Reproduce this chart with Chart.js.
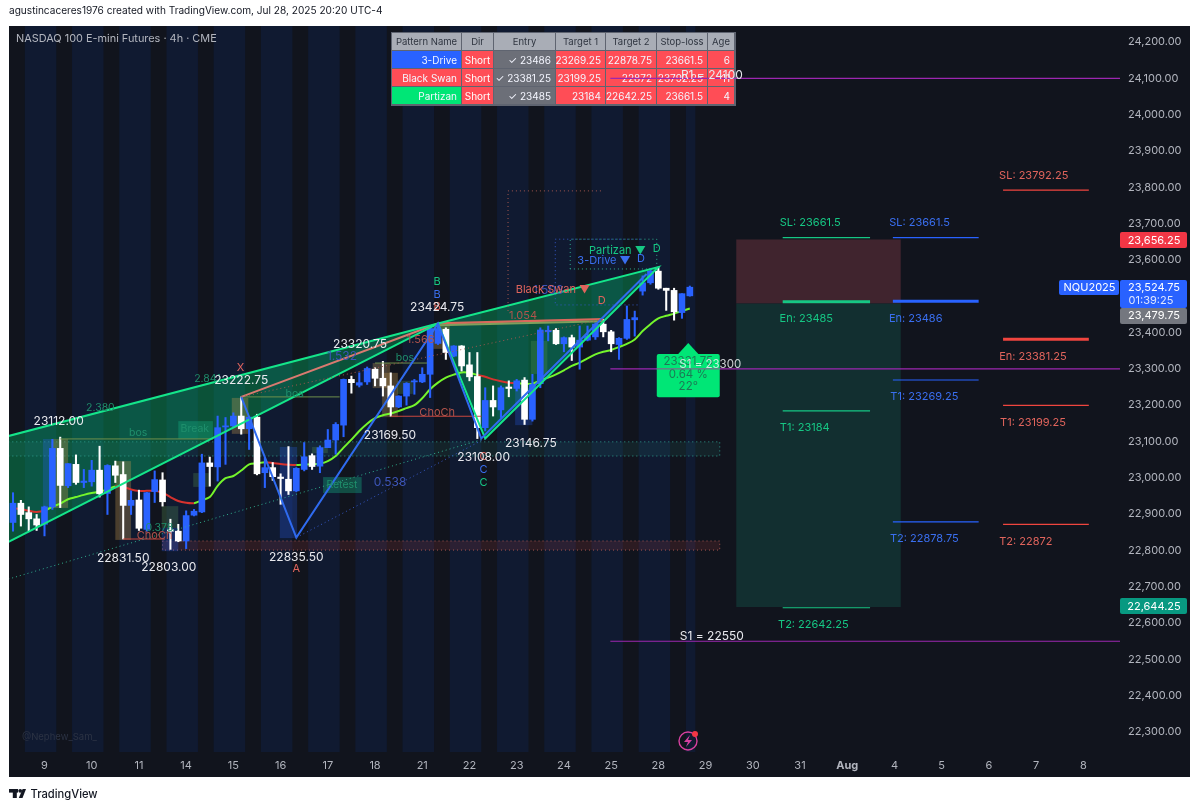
<!DOCTYPE html>
<html>
<head>
<meta charset="utf-8">
<title>NQU2025</title>
<script src="https://cdn.jsdelivr.net/npm/chart.js@4"></script>
<style>
body { margin: 0; background: #fff; }
canvas { display: block; }
</style>
</head>
<body>
<canvas id="chart" width="1200" height="810"></canvas>
<script>
// 4h candles, blue = up, white = down
var opens = [22877,22930,22904,22887,22872,22920,23081,22978,23037,22987,22989,23021,22957,23033,23009,22924,22939,22858,22962,22994,22857,22853,22826,22897,22906,23041,23030,23140,23143,23170,23135,23167,23014,23028,23002,22996,22964,23023,23061,23032,23083,23104,23145,23271,23255,23264,23299,23274,23253,23195,23225,23264,23264,23285,23370,23409,23335,23363,23311,23279,23138,23213,23187,23250,23246,23269,23161,23259,23402,23406,23369,23386,23360,23379,23388,23423,23402,23367,23384,23435,23514,23537,23569,23522,23516,23455,23501];
var highs = [22959,22938,22920,22899,22922,23106,23112,23039,23063,23023,23048,23087,23036,23046,23044,22964,22966,22960,23019,23014,22886,22872,22909,22913,23065,23057,23170,23166,23179,23222.75,23168,23175,23055,23042,23011,23086,23028,23097,23066,23088,23133,23152,23272,23280,23289,23305,23303,23320.75,23289,23226,23262,23271,23303,23418,23424.75,23413,23364,23364,23345,23345,23248,23253,23253,23267,23271,23276,23285,23413,23418,23411,23388,23393,23418,23418,23427,23436,23406,23386,23473,23459,23556,23577,23580,23522,23522,23507,23528];
var lows = [22853,22867,22853,22855,22840,22913,22918,22973,22982,22973,22977,22947,22899,22987,22831.5,22899,22855,22853,22932,22922,22803,22824,22805,22895,22904,22977,22991,23037,23140,23120,23078,23008,22973,22993,22927,22954,22962,23019,23023,23014,23083,23065,23113,23233,23250,23257,23253,23225,23169.5,23193,23200,23230,23262,23221,23367,23326,23333,23294,23267,23108,23129,23170,23166,23223,23239,23146.75,23156,23248,23377,23367,23347,23323,23299,23377,23381,23388,23347,23326,23381,23390,23503,23533,23519,23461,23434,23439,23500];
var closes = [22930,22899,22887,22870,22920,23081,22979,23039,22987,22991,23021,22956,23034,23007,22924,22938,22861,22959,22995,22934,22853,22826,22896,22908,23041,23031,23138,23143,23170,23135,23167,23011,23028,23003,22998,22964,23026,23058,23031,23083,23104,23147,23271,23262,23262,23301,23274,23253,23195,23225,23260,23267,23285,23411,23411,23345,23363,23308,23278,23138,23213,23195,23248,23246,23267,23161,23257,23407,23406,23369,23386,23360,23379,23390,23423,23402,23369,23384,23436,23441,23537,23569,23522,23516,23457,23507,23524.75];

var maValues = [22916,22914,22909,22906,22910,22920,22929,22941,22947,22953,22958,22962,22968,22976,22975,22968,22964,22964,22964,22959,22947,22936,22931,22930,22938,22947,22978,22999,23005,23020,23037,23040,23043,23041,23038,23036,23035,23036,23037,23039,23046,23060,23083,23105,23129,23149,23164,23172,23177,23184,23192,23200,23219,23244,23262,23276,23284,23290,23289,23283,23278,23271,23266,23262,23260,23259,23259,23268,23276,23285,23296,23308,23317,23329,23340,23347,23352,23360,23369,23381,23404,23423,23439,23446,23452,23459,23466];
var maRedRanges = [[0,4],[13,23],[32,36],[59,64]];

var dayLabels = ['9','10','11','14','15','16','17','18','21','22','23','24','25','28','29','30','31','Aug','4','5','6','7','8'];
var priceTicks = [22300,22400,22500,22600,22700,22800,22900,23000,23100,23200,23300,23400,23500,23600,23700,23800,23900,24000,24100,24200];

// pivots / patterns as [bar, price]
var wedgeUpper = [[-0.6,23115],[54,23424.75]];
var wedgeLower = [[-0.6,22823],[54,23424.75]];
var partizanLeg = [[54,23424.75],[60,23108],[82,23580],[54,23424.75]];
var driveZigzag = [[29,23222.75],[36,22835.5],[54,23424.75],[59.5,23108],[80.5,23561]];
var swanLegA = [[29,23222.75],[54,23424.75]];
var swanLegB = [[54,23424.75],[75,23437]];
var swanLegC = [[54,23420],[75,23431]];
var dotTeal = [[-0.6,22721],[60,23108]];
var dotBlue = [[36,22835.5],[60,23108]];
var dotSalmon = [[29,23222.75],[75,23437]];
var frameSalmon = [[74.7,23790],[62.9,23790],[62.9,23451]];
var frameBlue = [[79.7,23657],[68.9,23657],[68.9,23476],[79.7,23476]];
var frameTeal = [[70.8,23575],[70.8,23657],[81.8,23657],[81.8,23575],[70.8,23575]];
var bosLines = [[[6,23107],[25.4,23107]],[[29,23222.75],[41.5,23222.75]],[[46,23316],[52.6,23316]]];
var chochLines = [[[14,22831.5],[19.3,22831.5]],[[48,23169.5],[59.5,23169.5]]];

// order blocks, [bar0, bar1, price0, price1]
var tanBoxes = [[5,7,23107,22917],[13,15,23046,22829],[27.8,29.9,23220,23121],[45.7,47.9,23316,23247],[46.9,48.9,23289,23167],[53.4,55.5,23418,23355]];
var blueBoxes = [[3.8,5,23107,22917],[18.9,21,22862,22798],[33.9,36.1,23085,22834],[63.8,66,23247,23145]];
var greenBoxes = [[18.9,21,22922,22862],[22.9,25,23013,22975],[38,40,23085,23068],[48.8,50.8,23267,23231],[65.8,67.9,23377,23286]];
var signalBoxes = [[21,25.4,23156,23107],[39.4,44.3,23002,22958]];
var tealZone = [-0.6,89.8,23099,23060];
var redZone = [19,89.8,22826,22801];

var entryPrice = 23479.75, stopPrice = 23656.25, targetPrice = 22644.25, lastPrice = 23524.75;
var positionBars = [91.9,112.8];
var partizanLevels = [23661.5,23184,22642.25], partizanEntry = 23485, partizanBars = [97.8,108.9];
var driveLevels = [23661.5,23269.25,22878.75], driveEntry = 23486, driveBars = [111.8,122.7];
var swanLevels = [23792.25,23199.25,22872], swanEntry = 23381.25, swanBars = [125.8,136.7];
var pivotLevels = [24100,23300,22550], pivotStartBar = 75.9;

// texts, [text, bar, price]
var whiteLabels = [['23112.00',5.8,23156],['23222.75',29,23267],['23424.75',53.9,23470],['23320.75',44.1,23366],['23169.50',47.9,23118],['23108.00',59.8,23057],['23146.75',65.8,23096],['22835.50',36,22782],['22831.50',14,22779],['22803.00',19.8,22752],['R1 = 24100',88.8,24109],['S1 = 22550',88.8,22562]];
var salmonLabels = [['X',28.9,23302],['B',53.9,23470],['C',59.8,23057],['A',36,22749],['Black Swan ▼',68.6,23517],['D',74.8,23487],['SL: 23792.25',129.7,23831],['En: 23381.25',129.6,23333],['T1: 23199.25',129.6,23151],['T2: 22872',128.7,22823]];
var dimSalmonLabels = [['1.566',51.8,23379],['ChoCh',53.9,23178],['ChoCh',18,22840],['1.054',64.8,23446]];
var greenLabels = [['B',53.9,23539],['C',59.8,22986],['Partizan ▼',76.8,23624.5],['D',81.8,23630],['SL: 23661.5',101.3,23702],['En: 23485',100.8,23437],['T1: 23184',100.6,23137],['T2: 22642.25',101.7,22595]];
var dimGreenLabels = [['2.380',11.1,23192],['2.841',24.7,23272],['0.378',18.6,22862],['bos',15.9,23123],['bos',35.8,23231],['bos',49.8,23330],['Break',23.1,23134],['Retest',41.8,22980]];
var blueLabels = [['B',53.9,23503],['C',59.8,23021],['3-Drive ▼',75.1,23597],['D',79.8,23602],['SL: 23661.5',115.2,23702],['En: 23486',114.7,23437],['T1: 23269.25',115.8,23222],['T2: 22878.75',115.8,22831]];
var dimBlueLabels = [['1.532',41.8,23335],['0.538',47.9,22986],['1.503',68,23517]];
var slopeTexts = [['23331.75',85.8,23319],['0.64 %',85.8,23283],['22°',85.8,23250]];
var slopeBox = [81.8,89.8,23341,23222], slopeTip = [85.8,23371];

var tableHead = ['Pattern Name','Dir','Entry','Target 1','Target 2','Stop-loss','Age'];
var tableRows = [
    ['3-Drive','Short','✓ 23486','23269.25','22878.75','23661.5','6'],
    ['Black Swan','Short','✓ 23381.25','23199.25','22872','23792.25','11'],
    ['Partizan','Short','✓ 23485','23184','22642.25','23661.5','4']
];

var UI = 'Inter, "Liberation Sans", sans-serif';
var BLUE = '#2962ff', WHITE = '#ffffff', LIME = '#74f52c', MARED = '#d6322e';
var GREEN = '#14e58a', SALMON = '#e0645c', PURPLE = '#9c27b0';

function lineSet(pts, color, width, dash) {
    return {
        type: 'line',
        data: pts.map(function (p) { return { x: p[0], y: p[1] }; }),
        borderColor: color,
        borderWidth: width || 1,
        borderDash: dash || [],
        pointRadius: 0,
        tension: 0,
        fill: false,
        order: 0
    };
}

function levelSets(levels, entry, bars, color) {
    var out = levels.map(function (v) { return lineSet([[bars[0], v], [bars[1], v]], color, 1.2); });
    out.push(lineSet([[bars[0], entry], [bars[1], entry]], color, 3));
    return out;
}

var candleColors = closes.map(function (c, i) { return c >= opens[i] ? BLUE : WHITE; });

var datasets = [
    {
        data: closes.map(function (c, i) { return { x: i, y: [opens[i], c] }; }),
        backgroundColor: candleColors,
        barThickness: 6,
        grouped: false,
        order: 1
    },
    {
        data: highs.map(function (h, i) { return { x: i, y: [lows[i], h] }; }),
        backgroundColor: candleColors,
        barThickness: 1.4,
        grouped: false,
        order: 2
    },
    {
        type: 'line',
        data: maValues.map(function (v, i) { return { x: i, y: v }; }),
        borderWidth: 2,
        borderColor: LIME,
        pointRadius: 0,
        tension: 0.3,
        order: 3,
        segment: {
            borderColor: function (ctx) {
                var red = maRedRanges.some(function (r) { return ctx.p0DataIndex >= r[0] && ctx.p0DataIndex < r[1]; });
                return red ? MARED : LIME;
            }
        }
    },
    lineSet(dotTeal, '#2fae8e', 1, [1, 3]),
    lineSet(dotBlue, '#3558c8', 1, [1, 3]),
    lineSet(dotSalmon, '#a5574f', 1, [1, 3]),
    lineSet(frameSalmon, '#a5574f', 1, [1, 3]),
    lineSet(frameBlue, '#3558c8', 1, [1, 3]),
    lineSet(frameTeal, '#2fae8e', 1, [1, 3]),
    lineSet(driveZigzag, '#2f6bf0', 2),
    lineSet(wedgeUpper, GREEN, 2),
    lineSet(wedgeLower, GREEN, 2),
    lineSet(partizanLeg, GREEN, 2),
    lineSet(swanLegC, '#7fa05c', 2),
    lineSet(swanLegA, '#d97a70', 2),
    lineSet(swanLegB, '#d9695c', 2.4)
];
bosLines.forEach(function (l) { datasets.push(lineSet(l, '#6f8f4c', 1)); });
chochLines.forEach(function (l) { datasets.push(lineSet(l, '#c9473f', 1.2)); });
pivotLevels.forEach(function (v) { datasets.push(lineSet([[pivotStartBar, v], [141, v]], PURPLE, 1.2)); });
datasets = datasets.concat(levelSets(partizanLevels, partizanEntry, partizanBars, '#16c784'));
datasets = datasets.concat(levelSets(driveLevels, driveEntry, driveBars, '#2962ff'));
datasets = datasets.concat(levelSets(swanLevels, swanEntry, swanBars, '#f0453f'));

function text(ctx, str, x, y, color, font, align) {
    ctx.fillStyle = color;
    ctx.font = font;
    ctx.textAlign = align || 'center';
    ctx.textBaseline = 'middle';
    ctx.fillText(str, x, y);
}

function priceRect(chart, b, color) {
    var sx = chart.scales.x, sy = chart.scales.y;
    var x0 = sx.getPixelForValue(b[0]), x1 = sx.getPixelForValue(b[1]);
    var y0 = sy.getPixelForValue(b[2]), y1 = sy.getPixelForValue(b[3]);
    chart.ctx.fillStyle = color;
    chart.ctx.fillRect(x0, y0, x1 - x0, y1 - y0);
    return [x0, y0, x1 - x0, y1 - y0];
}

function polygon(chart, pts, color) {
    var ctx = chart.ctx, sx = chart.scales.x, sy = chart.scales.y;
    ctx.beginPath();
    pts.forEach(function (p, i) {
        var x = sx.getPixelForValue(p[0]), y = sy.getPixelForValue(p[1]);
        if (i === 0) ctx.moveTo(x, y); else ctx.lineTo(x, y);
    });
    ctx.closePath();
    ctx.fillStyle = color;
    ctx.fill();
}

function drawTable(ctx) {
    var cols = [392, 462, 494, 556, 606, 657, 708, 735];
    var rows = [33, 51, 69, 87, 105];
    var nameBg = ['#2962ff', '#ff4d56', '#00e676'];
    ctx.fillStyle = '#5f6470';
    ctx.fillRect(cols[0] - 1, rows[0] - 1, cols[7] - cols[0] + 2, rows[4] - rows[0] + 2);
    for (var r = 0; r < 4; r++) {
        var cells = r === 0 ? tableHead : tableRows[r - 1];
        for (var c = 0; c < 7; c++) {
            var x = cols[c], w = cols[c + 1] - x - 1, y = rows[r], h = rows[r + 1] - y - 1;
            var bg = '#ff4d56';
            if (r === 0) bg = '#a9adb6';
            else if (c === 0) bg = nameBg[r - 1];
            else if (c === 2) bg = '#6c6f78';
            ctx.fillStyle = bg;
            ctx.fillRect(x, y, w, h);
            var cy = y + h / 2 + 1;
            if (r === 0) text(ctx, cells[c], x + w / 2, cy, '#2f3540', '9.5px ' + UI);
            else if (c === 1) text(ctx, cells[c], x + w / 2, cy, '#fff', '10px ' + UI);
            else text(ctx, cells[c], x + w - 4, cy, '#f4f6ff', '10px ' + UI, 'right');
        }
    }
}

function tag(ctx, x, y, w, h, color) {
    ctx.fillStyle = color;
    ctx.beginPath();
    ctx.roundRect(x, y, w, h, 2);
    ctx.fill();
}

var paintPlugin = {
    id: 'paint',
    beforeDraw: function (chart) {
        var ctx = chart.ctx, a = chart.chartArea, sx = chart.scales.x;
        ctx.save();
        ctx.fillStyle = '#11141d';
        ctx.fillRect(a.left, a.top, 1190 - a.left, 777 - a.top);
        ctx.fillStyle = '#101a31';
        // session stripes stop at the last candle
        for (var k = 0; k < dayLabels.length; k++) {
            var s0 = 1.5 + 6 * k, s1 = Math.min(5.5 + 6 * k, opens.length - 0.3);
            if (s0 >= s1) break;
            var x0 = sx.getPixelForValue(s0), x1 = sx.getPixelForValue(s1);
            ctx.fillRect(x0, a.top, x1 - x0, a.bottom - a.top);
        }
        text(ctx, 'agustincaceres1976 created with TradingView.com, Jul 28, 2025 20:20 UTC-4', 9, 11, '#131722', '10.1px ' + UI, 'left');
        text(ctx, 'TradingView', 30.5, 795, '#131722', '500 11.2px ' + UI, 'left');
        // logo
        ctx.fillStyle = '#131722';
        ctx.fillRect(9, 789, 9, 3.6);
        ctx.fillRect(12.8, 789, 4, 9);
        ctx.beginPath(); ctx.arc(20.2, 790.8, 1.9, 0, 7); ctx.fill();
        ctx.beginPath(); ctx.moveTo(22.6, 789); ctx.lineTo(26, 789); ctx.lineTo(22.5, 798); ctx.lineTo(18.8, 798); ctx.fill();
        ctx.restore();
    },
    beforeDatasetsDraw: function (chart) {
        var ctx = chart.ctx, a = chart.chartArea;
        ctx.save();
        ctx.beginPath();
        ctx.rect(a.left, a.top, a.right - a.left, a.bottom - a.top);
        ctx.clip();
        polygon(chart, [wedgeUpper[0], wedgeUpper[1], wedgeLower[0]], 'rgba(0,230,118,0.30)');
        polygon(chart, partizanLeg.slice(0, 3), 'rgba(0,230,118,0.30)');
        [[tealZone, 'rgba(40,130,120,0.14)', '#2f9c8c'], [redZone, 'rgba(200,70,70,0.15)', '#a5574f']].forEach(function (z) {
            var r = priceRect(chart, z[0], z[1]);
            ctx.strokeStyle = z[2];
            ctx.setLineDash([1, 3]);
            ctx.strokeRect(r[0], r[1], r[2], r[3]);
            ctx.setLineDash([]);
        });
        tanBoxes.forEach(function (b) { priceRect(chart, b, 'rgba(190,150,80,0.33)'); });
        blueBoxes.forEach(function (b) { priceRect(chart, b, 'rgba(41,98,255,0.25)'); });
        greenBoxes.forEach(function (b) { priceRect(chart, b, 'rgba(90,150,90,0.28)'); });
        signalBoxes.forEach(function (b) { priceRect(chart, b, 'rgba(20,170,130,0.38)'); });
        priceRect(chart, [positionBars[0], positionBars[1], stopPrice, entryPrice], '#40242e');
        priceRect(chart, [positionBars[0], positionBars[1], entryPrice, targetPrice], '#122f30');
        ctx.restore();
        drawTable(ctx);
    },
    afterDatasetsDraw: function (chart) {
        var ctx = chart.ctx, sx = chart.scales.x, sy = chart.scales.y;
        ctx.save();
        function put(list, color, size) {
            list.forEach(function (l) {
                text(ctx, l[0], sx.getPixelForValue(l[1]), sy.getPixelForValue(l[2]), color, size + 'px ' + UI);
            });
        }
        put(dimGreenLabels, '#1f8f6c', 10.5);
        put(dimSalmonLabels, '#b2544c', 11);
        put(dimBlueLabels, '#3d55b8', 12);
        put(greenLabels, '#16c784', 11);
        put(blueLabels, '#3a6ff0', 11);
        put(salmonLabels, SALMON, 11);
        put(whiteLabels, '#e8e9ee', 12);

        // slope callout
        var bx = sx.getPixelForValue(slopeBox[0]), bw = sx.getPixelForValue(slopeBox[1]) - bx;
        var by = sy.getPixelForValue(slopeBox[2]), bh = sy.getPixelForValue(slopeBox[3]) - by;
        var tx = sx.getPixelForValue(slopeTip[0]), ty = sy.getPixelForValue(slopeTip[1]);
        tag(ctx, bx, by, bw, bh, '#00e676');
        ctx.beginPath();
        ctx.moveTo(tx - 11, by + 1); ctx.lineTo(tx, ty); ctx.lineTo(tx + 11, by + 1);
        ctx.fill();
        // S1 line and label run over the callout
        put(slopeTexts, '#1b7a55', 11.5);
        var s1y = sy.getPixelForValue(pivotLevels[1]);
        ctx.fillStyle = '#7a6a8a';
        ctx.fillRect(bx, s1y - 0.6, bw, 1.2);
        text(ctx, 'S1 = 23300', sx.getPixelForValue(88.6), sy.getPixelForValue(23311), 'rgba(236,240,242,0.85)', '11.5px ' + UI);

        // price axis tags
        tag(ctx, 1120, 232, 67, 16, '#f23645');
        text(ctx, '23,656.25', 1154, 240.5, '#fff', '11px ' + UI);
        tag(ctx, 1120, 280, 67, 28, BLUE);
        text(ctx, '23,524.75', 1154, 288, '#fff', '11px ' + UI);
        text(ctx, '01:39:25', 1151, 300.5, '#dfe6ff', '11px ' + UI);
        tag(ctx, 1120, 308, 67, 16, '#74777f');
        text(ctx, '23,479.75', 1154, 316, '#fff', '11px ' + UI);
        tag(ctx, 1120, 598, 67, 16, '#089981');
        text(ctx, '22,644.25', 1154, 606.5, '#fff', '11px ' + UI);
        tag(ctx, 1059, 280, 60, 15, BLUE);
        text(ctx, 'NQU2025', 1089.5, 288, '#fff', '11px ' + UI);

        text(ctx, 'NASDAQ 100 E-mini Futures · 4h · CME', 16, 39, '#b2b5be', '10.9px ' + UI, 'left');
        text(ctx, '@Nephew_Sam_', 22, 737, '#2c3344', '9.5px ' + UI, 'left');

        // replay icon
        ctx.strokeStyle = '#d6409f';
        ctx.lineWidth = 1.4;
        ctx.beginPath(); ctx.arc(688, 741, 9, 0, 7); ctx.stroke();
        ctx.fillStyle = '#d6409f';
        ctx.beginPath();
        ctx.moveTo(690, 735); ctx.lineTo(684, 742); ctx.lineTo(688, 742);
        ctx.lineTo(686, 747); ctx.lineTo(692, 740); ctx.lineTo(688, 740);
        ctx.closePath(); ctx.fill();
        ctx.fillStyle = '#f23645';
        ctx.beginPath(); ctx.arc(695, 734, 3, 0, 7); ctx.fill();
        ctx.restore();
    }
};

new Chart(document.getElementById('chart'), {
    type: 'bar',
    data: { datasets: datasets },
    plugins: [paintPlugin],
    options: {
        responsive: false,
        animation: false,
        events: [],
        layout: { padding: { left: 9, right: 10, top: 26, bottom: 33 } },
        plugins: { legend: { display: false }, tooltip: { enabled: false } },
        scales: {
            x: {
                type: 'linear',
                offset: false,
                bounds: 'data',
                min: -0.51,
                max: 140.66,
                grid: { display: false, drawTicks: false },
                border: { display: false },
                afterBuildTicks: function (s) {
                    s.ticks = dayLabels.map(function (d, k) { return { value: 4 + 6 * k }; });
                },
                afterFit: function (s) { s.height = 25; },
                ticks: {
                    autoSkip: false,
                    maxRotation: 0,
                    padding: 7,
                    color: '#b2b5be',
                    font: function (c) {
                        var bold = c.tick && c.tick.label === 'Aug';
                        return { family: UI, size: 11, weight: bold ? '700' : '400' };
                    },
                    callback: function (v) { return dayLabels[(v - 4) / 6]; }
                }
            },
            y: {
                position: 'right',
                bounds: 'data',
                min: 22245,
                max: 24244,
                grid: { display: false, drawTicks: false },
                border: { display: false },
                afterBuildTicks: function (s) {
                    s.ticks = priceTicks.map(function (v) { return { value: v }; });
                },
                afterFit: function (s) { s.width = 70; },
                ticks: {
                    autoSkip: false,
                    padding: 8,
                    color: '#b2b5be',
                    font: { family: UI, size: 11 },
                    callback: function (v) {
                        return v.toLocaleString('en-US', { minimumFractionDigits: 2 });
                    }
                }
            }
        }
    }
});
</script>
</body>
</html>
